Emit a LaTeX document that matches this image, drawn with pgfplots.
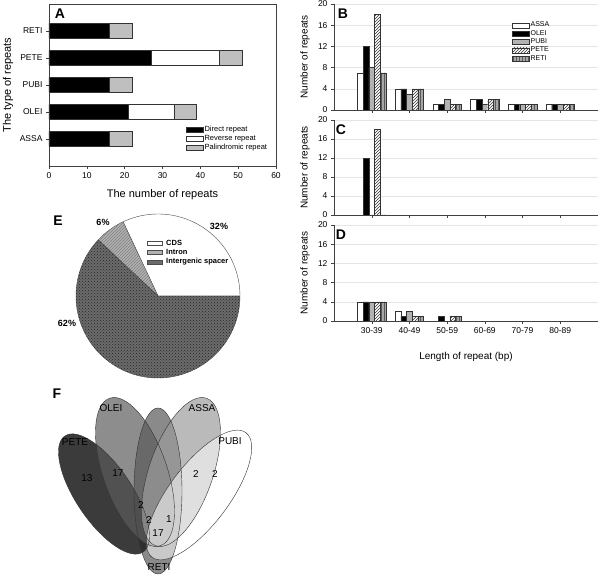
\documentclass[border=0pt]{standalone}
\usepackage{fontspec}
\setmainfont{Liberation Sans}
\usepackage{pgfplots}
\pgfplotsset{compat=1.18}
\usetikzlibrary{patterns}
\begin{document}
\begin{tikzpicture}
\pgfplotsset{
 every axis/.append style={/pgf/number format/assume math mode=true,
   tick label style={font=\fontsize{8.5}{10}\selectfont},
   label style={font=\fontsize{11}{13}\selectfont}},
 bcd/.style={scale only axis, width=264pt, xmin=-1, xmax=6, ymin=0, ymax=20,
   ytick={0,4,...,20}, xtick={0,...,5}, ybar=0pt, bar width=5.7pt,
   axis x line*=bottom, axis y line*=left, axis line style={-,black!75},
   every tick/.style={black!75},
   ymajorgrids, grid style={black!10}, tick align=outside, major tick length=3pt,
   ylabel={Number of repeats},
   ylabel style={at={(axis description cs:-0.11,0.5)}, anchor=center, font=\fontsize{10}{12}\selectfont},
   anchor=south west},
 sA/.style={fill=white, draw=black!80},
 sO/.style={fill=black, draw=black!80},
 sP/.style={fill=black!30, draw=black!80},
 sE/.style={fill=white, draw=black!80, postaction={pattern=north east lines, pattern color=black!80}},
 sR/.style={fill=black!35, draw=black!80, postaction={pattern=vertical lines, pattern color=black!65}},
}
% ---------------- Panel A ----------------
\begin{axis}[at={(49pt,411pt)}, anchor=south west, scale only axis, width=227pt, height=162pt,
 xmin=0, xmax=60, ymin=0, ymax=6, xtick={0,10,...,60}, ytick={1,...,5},
 yticklabels={ASSA,OLEI,PUBI,PETE,RETI},
 xbar stacked, bar width=15pt, tick align=outside, tick pos=left, major tick length=3pt,
 axis line style={black!75}, every tick/.style={black!75},
 xlabel={The number of repeats}, ylabel={The type of repeats},
 xlabel style={at={(axis description cs:0.5,-0.179)}, anchor=center},
 ylabel style={at={(axis description cs:-0.18,0.5)}, anchor=center},
 legend style={at={(0.59,0.265)}, anchor=north west, draw=none, fill=none,
   font=\fontsize{7.5}{8.5}\selectfont, row sep=0pt, nodes={inner sep=1pt}},
 legend cell align=left,
 legend image code/.code={\draw[#1] (0pt,-2.5pt) rectangle (17pt,2.5pt);},
]
\addplot[fill=black, draw=black!80] coordinates {(16,1) (21,2) (16,3) (27,4) (16,5)};
\addplot[fill=white, draw=black!80] coordinates {(0,1) (12,2) (0,3) (18,4) (0,5)};
\addplot[fill=black!25, draw=black!80] coordinates {(6,1) (6,2) (6,3) (6,4) (6,5)};
\legend{Direct repeat, Reverse repeat, Palindromic repeat}
\end{axis}
\node[font=\bfseries\fontsize{14}{14}\selectfont] at (60pt,563pt) {A};
% ---------------- Panel B ----------------
\begin{axis}[bcd, at={(334pt,467pt)}, height=106pt, xticklabels={},
 legend style={at={(0.663,0.86)}, anchor=north west, draw=none, fill=none,
   font=\fontsize{7}{8}\selectfont, row sep=0pt, nodes={inner sep=1pt}},
 legend cell align=left,
 legend image code/.code={\draw[#1] (0pt,-2.5pt) rectangle (17pt,2.5pt);},
]
\addplot[sA] coordinates {(0,7) (1,4) (2,1) (3,2) (4,1) (5,1)};
\addplot[sO] coordinates {(0,12) (1,4) (2,1) (3,2) (4,1) (5,1)};
\addplot[sP] coordinates {(0,8) (1,3) (2,2) (3,1) (4,1) (5,1)};
\addplot[sE] coordinates {(0,18) (1,4) (2,1) (3,2) (4,1) (5,1)};
\addplot[sR] coordinates {(0,7) (1,4) (2,1) (3,2) (4,1) (5,1)};
\legend{ASSA, OLEI, PUBI, PETE, RETI}
\end{axis}
\node[font=\bfseries\fontsize{14}{14}\selectfont] at (343pt,563pt) {B};
% ---------------- Panel C ----------------
\begin{axis}[bcd, at={(334pt,362pt)}, height=95pt, xticklabels={}]
\addplot[sA, draw=none] coordinates {(0,0)};
\addplot[sO] coordinates {(0,12)};
\addplot[sP, draw=none] coordinates {(0,0)};
\addplot[sE] coordinates {(0,18)};
\addplot[sR, draw=none] coordinates {(0,0)};
\end{axis}
\node[font=\bfseries\fontsize{14}{14}\selectfont] at (341pt,447pt) {C};
% ---------------- Panel D ----------------
\begin{axis}[bcd, at={(334pt,256pt)}, height=96pt,
 xticklabels={30-39,40-49,50-59,60-69,70-79,80-89},
 xlabel={Length of repeat (bp)},
 xlabel style={at={(axis description cs:0.5,-0.375)}, anchor=center, font=\fontsize{10}{12}\selectfont},
]
\addplot[sA] coordinates {(0,4) (1,2)};
\addplot[sO] coordinates {(0,4) (1,1) (2,1)};
\addplot[sP] coordinates {(0,4) (1,2)};
\addplot[sE] coordinates {(0,4) (1,1) (2,1)};
\addplot[sR] coordinates {(0,4) (1,1) (2,1)};
\end{axis}
\node[font=\bfseries\fontsize{14}{14}\selectfont] at (341pt,342pt) {D};
% ---------------- Panels E and F ----------------
\begin{axis}[at={(0pt,0pt)}, anchor=south west, scale only axis, width=300pt, height=380pt,
 xmin=0, xmax=300, ymin=0, ymax=380, hide axis, clip=false]
% pie: CDS 32%, Intron 6%, Intergenic spacer 62%
\filldraw[fill=white, draw=black!70, line width=0.4pt] (axis cs:158,281) -- ++(0:82pt) arc[start angle=0, end angle=115.2, radius=82pt] -- cycle;
\filldraw[fill=black!30, draw=black!70, line width=0.4pt, postaction={pattern=north east lines, pattern color=black!50}] (axis cs:158,281) -- ++(115.2:82pt) arc[start angle=115.2, end angle=136.8, radius=82pt] -- cycle;
\filldraw[fill=black!58, draw=black!70, line width=0.4pt, postaction={pattern=crosshatch dots, pattern color=black!85}] (axis cs:158,281) -- ++(136.8:82pt) arc[start angle=136.8, end angle=360, radius=82pt] -- cycle;
\node[font=\bfseries\fontsize{9}{10}\selectfont] at (axis cs:219,351) {32\%};
\node[font=\bfseries\fontsize{9}{10}\selectfont] at (axis cs:103,355) {6\%};
\node[font=\bfseries\fontsize{9}{10}\selectfont] at (axis cs:67,254) {62\%};
% pie legend
\filldraw[fill=white, draw=black!70] (axis cs:147,332) rectangle (axis cs:162,336);
\filldraw[fill=black!30, draw=black!70] (axis cs:147,323) rectangle (axis cs:162,327);
\filldraw[fill=black!58, draw=black!70] (axis cs:147,313) rectangle (axis cs:162,317);
\node[anchor=west, font=\bfseries\fontsize{7.5}{8.5}\selectfont, inner sep=0pt] at (axis cs:166,334) {CDS};
\node[anchor=west, font=\bfseries\fontsize{7.5}{8.5}\selectfont, inner sep=0pt] at (axis cs:166,325) {Intron};
\node[anchor=west, font=\bfseries\fontsize{7.5}{8.5}\selectfont, inner sep=0pt] at (axis cs:166,315) {Intergenic spacer};
\node[font=\bfseries\fontsize{14}{14}\selectfont] at (axis cs:58,356) {E};
\node[font=\bfseries\fontsize{14}{14}\selectfont] at (axis cs:57,183) {F};
% Venn diagram
\fill[black!51, fill opacity=0.9] (axis cs:158,86) ellipse [x radius=24pt, y radius=83pt];
\fill[black!85, fill opacity=0.9, rotate around={34:(axis cs:104,83)}] (axis cs:104,83) ellipse [x radius=28pt, y radius=70pt];
\fill[black!64, fill opacity=0.7, rotate around={19:(axis cs:135,105)}] (axis cs:135,105) ellipse [x radius=32pt, y radius=78pt];
\fill[black!39, fill opacity=0.7, rotate around={-19:(axis cs:181,105)}] (axis cs:181,105) ellipse [x radius=32pt, y radius=78pt];
\fill[white, fill opacity=0.55, rotate around={-37:(axis cs:199,82)}] (axis cs:199,82) ellipse [x radius=30pt, y radius=78pt];
\draw[black!80, line width=0.4pt] (axis cs:158,86) ellipse [x radius=24pt, y radius=83pt];
\draw[black!80, line width=0.4pt, rotate around={34:(axis cs:104,83)}] (axis cs:104,83) ellipse [x radius=28pt, y radius=70pt];
\draw[black!80, line width=0.4pt, rotate around={19:(axis cs:135,105)}] (axis cs:135,105) ellipse [x radius=32pt, y radius=78pt];
\draw[black!80, line width=0.4pt, rotate around={-19:(axis cs:181,105)}] (axis cs:181,105) ellipse [x radius=32pt, y radius=78pt];
\draw[black!80, line width=0.4pt, rotate around={-37:(axis cs:199,82)}] (axis cs:199,82) ellipse [x radius=30pt, y radius=78pt];
\begin{scope}[every node/.style={font=\fontsize{10}{11}\selectfont, inner sep=0pt}]
\node at (axis cs:87,99) {13};
\node at (axis cs:118,104) {17};
\node at (axis cs:196,103) {2};
\node at (axis cs:215,103) {2};
\node at (axis cs:141,72) {2};
\node at (axis cs:149,57) {2};
\node at (axis cs:169,58) {1};
\node at (axis cs:158,44) {17};
\node at (axis cs:75,135) {PETE};
\node at (axis cs:111,169) {OLEI};
\node at (axis cs:202,169) {ASSA};
\node at (axis cs:230,136) {PUBI};
\node at (axis cs:159,10) {RETI};
\end{scope}
\end{axis}
\pgfresetboundingbox
\useasboundingbox (0pt,0pt) rectangle (600pt,577pt);
\end{tikzpicture}
\end{document}
